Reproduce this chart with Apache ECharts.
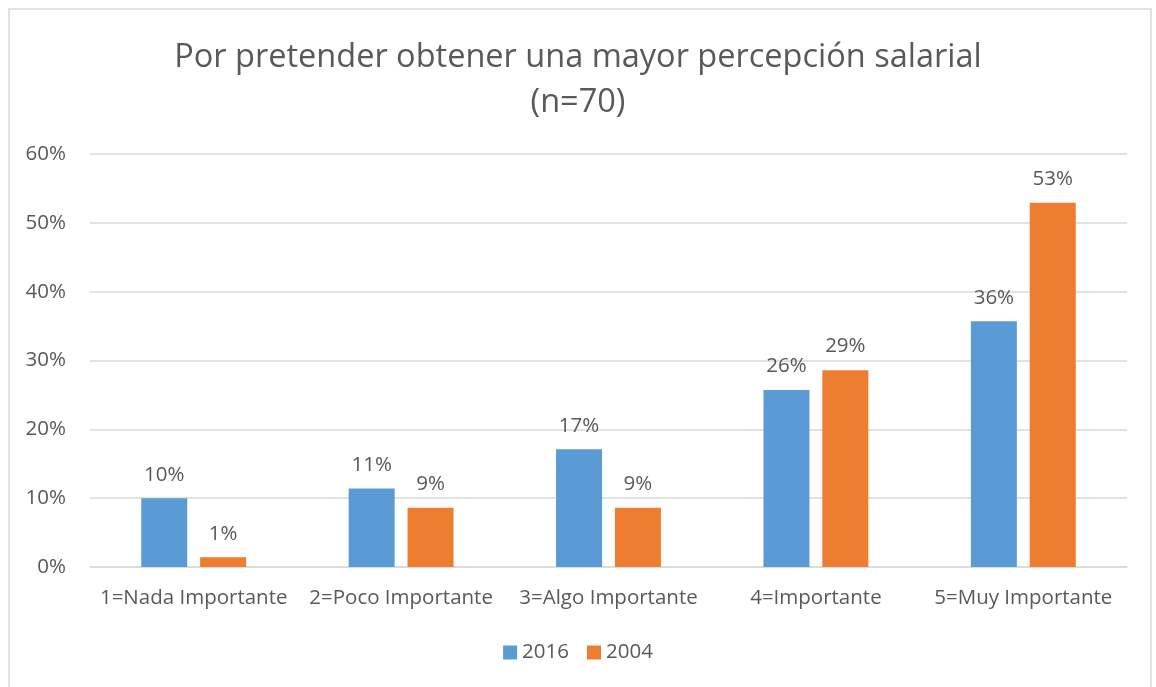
<!DOCTYPE html>
<html lang="es">
<head>
    <meta charset="UTF-8">
    <title>Por pretender obtener una mayor percepción salarial</title>
    <script src="https://cdn.jsdelivr.net/npm/echarts@6/dist/echarts.min.js"></script>
    <style>
        body { margin: 0; background: #fff; }
        #chart { width: 1156px; height: 687px; }
    </style>
</head>
<body>
<div id="chart"></div>
<script>
    // datos (porcentajes, n=70)
    var categorias = ['1=Nada Importante', '2=Poco Importante', '3=Algo Importante', '4=Importante', '5=Muy Importante'];
    var serie2016 = [10.0, 11.4, 17.1, 25.7, 35.7];
    var serie2004 = [1.4, 8.6, 8.6, 28.6, 52.9];
    var nombresSeries = ['2016', '2004'];

    var fuente = '"Open Sans", "Noto Sans", sans-serif';
    var gris = '#595959';

    var chart = echarts.init(document.getElementById('chart'));

    var etiqueta = {
        show: true,
        position: 'top',
        distance: 13,
        color: gris,
        fontSize: 20.5,
        fontFamily: fuente,
        formatter: function (p) { return Math.round(p.value) + '%'; }
    };

    var option = {
        backgroundColor: '#fff',
        animation: false,
        graphic: [{
            type: 'rect',
            shape: { x: 9, y: 9, width: 1142, height: 700 },
            style: { fill: 'none', stroke: '#D9D9D9', lineWidth: 1.5 }
        }],
        title: {
            text: 'Por pretender obtener una mayor percepción salarial\n(n=70)',
            left: 'center',
            top: 30,
            textStyle: {
                color: gris,
                fontSize: 32.5,
                fontWeight: 'normal',
                fontFamily: fuente,
                lineHeight: 45
            }
        },
        legend: {
            data: nombresSeries,
            bottom: 19,
            left: 'center',
            itemWidth: 14,
            itemHeight: 14,
            itemGap: 18,
            icon: 'rect',
            textStyle: { color: gris, fontSize: 20.5, fontFamily: fuente }
        },
        grid: { left: 90, right: 29, top: 154, bottom: 120 },
        xAxis: {
            type: 'category',
            data: categorias,
            axisLine: { lineStyle: { color: '#D9D9D9', width: 1.5 } },
            axisTick: { show: false },
            axisLabel: { color: gris, fontSize: 20.5, fontFamily: fuente, margin: 21, interval: 0 }
        },
        yAxis: {
            type: 'value',
            min: 0,
            max: 60,
            interval: 10,
            axisLine: { show: false },
            axisTick: { show: false },
            splitLine: { lineStyle: { color: '#D9D9D9', width: 1.5 } },
            axisLabel: {
                color: gris, fontSize: 20.5, fontFamily: fuente, margin: 24,
                formatter: '{value}%'
            }
        },
        series: [
            {
                name: nombresSeries[0],
                type: 'bar',
                data: serie2016,
                barWidth: 46,
                barGap: '28%',
                itemStyle: { color: '#5B9BD5' },
                label: etiqueta
            },
            {
                name: nombresSeries[1],
                type: 'bar',
                data: serie2004,
                barWidth: 46,
                barGap: '28%',
                itemStyle: { color: '#ED7D31' },
                label: etiqueta
            }
        ]
    };

    chart.setOption(option);
</script>
</body>
</html>
